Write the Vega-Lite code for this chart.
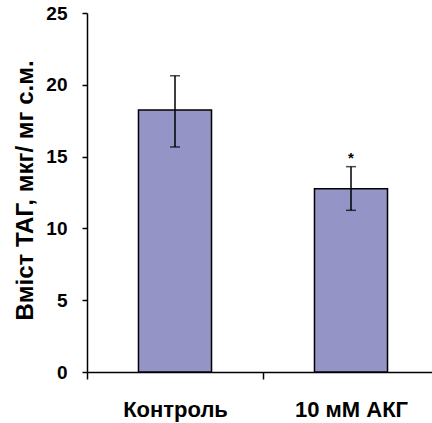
{
  "$schema": "https://vega.github.io/schema/vega-lite/v6.json",
  "autosize": "none",
  "width": 345,
  "height": 359,
  "padding": {"left": 87, "top": 13, "right": 0, "bottom": 51},
  "background": "white",
  "config": {
    "view": {"stroke": null},
    "font": "Liberation Sans",
    "axis": {"domainColor": "black", "tickColor": "black", "labelColor": "black", "titleColor": "black", "grid": false, "domainWidth": 1.5, "tickWidth": 1.5, "labelFont": "Liberation Sans", "titleFont": "Liberation Sans"}
  },
  "data": {"values": [
    {"group": "Контроль", "mean": 18.25, "lower": 15.67, "upper": 20.63, "sig": ""},
    {"group": "10 мМ АКГ", "mean": 12.76, "lower": 11.26, "upper": 14.3, "sig": "*"}
  ]},
  "encoding": {
    "x": {"field": "group", "type": "nominal", "sort": null,
      "scale": {"range": [0, 352], "paddingInner": 0, "paddingOuter": 0},
      "axis": {"title": null, "labelAngle": 0, "labelFontSize": 22, "labelFontWeight": "bold", "tickSize": 7, "tickBand": "extent", "labelPadding": 20}}
  },
  "layer": [
    {
      "mark": {"type": "bar", "width": {"band": 0.415}, "fill": "#9494C6", "stroke": "black", "strokeWidth": 1.5},
      "encoding": {
        "y": {"field": "mean", "type": "quantitative",
          "scale": {"domain": [0, 25], "nice": false, "zero": true},
          "axis": {"values": [0, 5, 10, 15, 20, 25], "title": "Вміст ТАГ, мкг/ мг с.м.", "titleFontSize": 24, "titleFontWeight": "bold", "labelFontSize": 19, "labelFontWeight": "bold", "tickSize": 5, "labelPadding": 15, "titleX": -62, "titleY": 177, "titleAngle": -90, "titleAlign": "center", "titleBaseline": "middle"}}
      }
    },
    {
      "mark": {"type": "rule", "color": "black", "strokeWidth": 1.5},
      "encoding": {"y": {"field": "lower", "type": "quantitative"}, "y2": {"field": "upper"}}
    },
    {
      "mark": {"type": "tick", "color": "black", "size": 10, "thickness": 1.5, "orient": "horizontal"},
      "encoding": {"y": {"field": "lower", "type": "quantitative"}}
    },
    {
      "mark": {"type": "tick", "color": "black", "size": 10, "thickness": 1.5, "orient": "horizontal"},
      "encoding": {"y": {"field": "upper", "type": "quantitative"}}
    },
    {
      "mark": {"type": "text", "fontSize": 15, "fontWeight": "bold", "dy": -9, "baseline": "middle", "color": "black"},
      "encoding": {"y": {"field": "upper", "type": "quantitative"}, "text": {"field": "sig"}}
    }
  ]
}
